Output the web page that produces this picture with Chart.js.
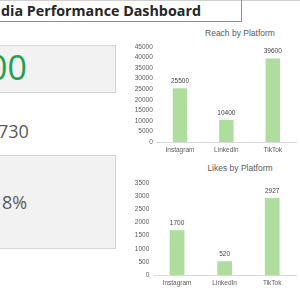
<!DOCTYPE html>
<html>
<head>
<meta charset="utf-8">
<script src="https://cdn.jsdelivr.net/npm/chart.js@4"></script>
<style>
  html, body { margin: 0; padding: 0; background: #fff; }
  body { width: 300px; height: 300px; position: relative; overflow: hidden; font-family: "Open Sans", sans-serif; }
  .topline { position: absolute; left: 0; top: 0; width: 300px; height: 1px; background: #cfcfcf; }
  .title { position: absolute; left: -2px; top: 0; width: 242px; height: 21px; border: 1px solid #6aa37c; border-top: none;
           font-weight: 700; font-size: 14.3px; color: #262626; line-height: 21px; white-space: nowrap; }
  .box { position: absolute; left: -2px; width: 116px; background: #f2f2f2; border: 1px solid #d4d4d4; }
  .kpi { position: absolute; white-space: nowrap; color: #595959; }
  .ctitle { position: absolute; width: 120px; margin-left: -60px; text-align: center; font-family: "Liberation Sans", Arial, sans-serif;
            font-size: 8.5px; color: #595959; line-height: 10px; white-space: nowrap; }
  canvas { position: absolute; }
</style>
</head>
<body>
<div class="topline"></div>
<div class="title"><span style="position:absolute; left:2px; top:0px;">dia Performance Dashboard</span></div>

<div class="box" style="top:45px; height:46px;"></div>
<div class="kpi" style="left:-12px; top:44px; font-size:34px; color:#1fa24e; line-height:46px;">00</div>

<div class="kpi" style="left:-2px; top:118px; font-size:18px; line-height:26px;">730</div>

<div class="box" style="top:155px; height:92px;"></div>
<div class="kpi" style="left:2px; top:189px; font-size:18px; line-height:26px;">8%</div>

<div class="ctitle" style="left:240px; top:28px;">Reach by Platform</div>
<div class="ctitle" style="left:240px; top:163px;">Likes by Platform</div>

<canvas id="reachChart" width="170" height="135" style="left:130px; top:25px;"></canvas>
<canvas id="likesChart" width="170" height="132" style="left:130px; top:161px;"></canvas>

<script>
// platforms on the x axis
const platforms = ['Instagram', 'LinkedIn', 'TikTok'];

// values
const reachValues = [25500, 10400, 39600];
const likesValues = [1700, 520, 2927];

// y axis ranges
const reachMax = 45000, reachStep = 5000;
const likesMax = 3500, likesStep = 500;

const barColor = '#aedd9e';
const textColor = '#595959';
const fontFamily = '"Liberation Sans", Arial, sans-serif';

// draws the value above each bar
const valueLabels = {
    id: 'valueLabels',
    afterDatasetsDraw(chart) {
        const ctx = chart.ctx;
        const ds = chart.data.datasets[0];
        chart.getDatasetMeta(0).data.forEach((bar, i) => {
            ctx.save();
            ctx.fillStyle = '#404040';
            ctx.font = '6.5px ' + fontFamily;
            ctx.textAlign = 'center';
            ctx.textBaseline = 'middle';
            ctx.fillText(String(ds.data[i]), bar.x, bar.y - 7);
            ctx.restore();
        });
    }
};

function makeChart(id, values, max, step, yWidth) {
    return new Chart(document.getElementById(id).getContext('2d'), {
        type: 'bar',
        data: {
            labels: platforms,
            datasets: [{
                data: values,
                backgroundColor: barColor,
                categoryPercentage: 1,
                barPercentage: 0.31
            }]
        },
        options: {
            responsive: false,
            animation: false,
            // top padding leaves room for the html title above
            layout: { padding: { top: 22, right: 4, bottom: 0, left: 0 } },
            plugins: {
                legend: { display: false },
                tooltip: { enabled: false }
            },
            scales: {
                x: {
                    grid: { display: false, drawTicks: false, tickLength: 0 },
                    border: { display: true, color: '#d9d9d9' },
                    ticks: { color: textColor, font: { family: fontFamily, size: 6.5 }, padding: 4, maxRotation: 0 },
                    afterFit: s => { s.height = 18; }
                },
                y: {
                    min: 0,
                    max: max,
                    grid: { display: false, drawTicks: false, tickLength: 0 },
                    border: { display: false },
                    ticks: {
                        stepSize: step, autoSkip: false, color: textColor, font: { family: fontFamily, size: 6.5 }, padding: 4,
                        callback: v => String(v)
                    },
                    afterFit: s => { s.width = yWidth; }
                }
            }
        },
        plugins: [valueLabels]
    });
}

makeChart('reachChart', reachValues, reachMax, reachStep, 26.75);
makeChart('likesChart', likesValues, likesMax, likesStep, 23.25);
</script>
</body>
</html>
